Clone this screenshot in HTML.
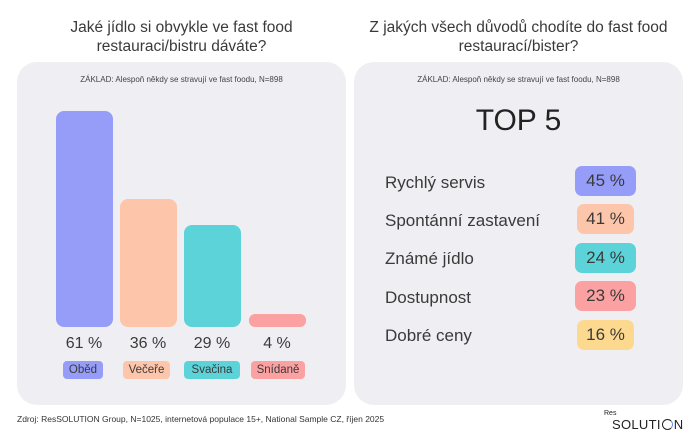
<!DOCTYPE html>
<html><head><meta charset="utf-8"><style>
body{margin:0;width:700px;height:437px;background:#fff;font-family:"Liberation Sans","DejaVu Sans",sans-serif;color:#3a3a3a;position:relative;overflow:hidden}
.a{position:absolute}
.panel{position:absolute;top:62px;width:329px;height:343px;background:#efeff3;border-radius:20px}
.t{font-size:15.5px;text-align:center;line-height:19px;color:#3a3a3a}
.base{font-size:8px;color:#444;text-align:center}
.bar{position:absolute;width:57px;border-radius:8px}
.pct{position:absolute;width:64px;text-align:center;font-size:16px;top:335px;color:#3a3a3a}
.chip{position:absolute;top:361px;height:18px;font-size:11.5px;line-height:18px;text-align:center;border-radius:4px;color:#3a3a3a}
.lab{position:absolute;left:385px;font-size:17px;color:#3a3a3a}
.rc{position:absolute;height:30px;line-height:30px;border-radius:7px;font-size:17px;text-align:center;color:#3a3a3a}
</style></head><body>
<div class="a t" style="left:17px;width:329px;top:18px">Jaké jídlo si obvykle ve fast food<br>restauraci/bistru dáváte?</div>
<div class="a t" style="left:354px;width:329px;top:18px">Z jakých všech důvodů chodíte do fast food<br>restaurací/bister?</div>
<div class="panel" style="left:17px"></div>
<div class="panel" style="left:354px"></div>
<div class="a base" style="left:17px;width:329px;top:75px">ZÁKLAD: Alespoň někdy se stravují ve fast foodu, N=898</div>
<div class="a base" style="left:354px;width:329px;top:75px">ZÁKLAD: Alespoň někdy se stravují ve fast foodu, N=898</div>
<div class="bar" style="left:56px;top:111px;height:216px;background:#959df9"></div>
<div class="bar" style="left:120px;top:199px;height:128px;background:#fdc5a9"></div>
<div class="bar" style="left:184px;top:225px;height:102px;background:#5cd3d9"></div>
<div class="bar" style="left:249px;top:314px;height:13px;background:#fba1a1;border-radius:6px"></div>
<div class="pct" style="left:52px">61 %</div>
<div class="pct" style="left:116px">36 %</div>
<div class="pct" style="left:180px">29 %</div>
<div class="pct" style="left:245px">4 %</div>
<div class="chip" style="left:63px;width:40px;background:#959df9">Oběd</div>
<div class="chip" style="left:123px;width:47px;background:#fdc5a9">Večeře</div>
<div class="chip" style="left:184px;width:56px;background:#5cd3d9">Svačina</div>
<div class="chip" style="left:251px;width:54px;background:#fba1a1">Snídaně</div>
<div class="a" style="left:354px;width:329px;top:104px;text-align:center;font-size:30px;color:#222">TOP 5</div>
<div class="lab" style="top:173px">Rychlý servis</div>
<div class="lab" style="top:211px">Spontánní zastavení</div>
<div class="lab" style="top:249px">Známé jídlo</div>
<div class="lab" style="top:288px">Dostupnost</div>
<div class="lab" style="top:326px">Dobré ceny</div>
<div class="rc" style="left:575px;width:61px;top:166px;background:#959df9">45 %</div>
<div class="rc" style="left:577px;width:57px;top:204px;background:#fdc5a9">41 %</div>
<div class="rc" style="left:575px;width:61px;top:243px;background:#5cd3d9">24 %</div>
<div class="rc" style="left:575px;width:61px;top:281px;background:#fba1a1">23 %</div>
<div class="rc" style="left:577px;width:57px;top:320px;background:#fdd98f">16 %</div>
<div class="a" style="left:17px;top:414px;font-size:8.5px;color:#333">Zdroj: ResSOLUTION Group, N=1025, internetová populace 15+, National Sample CZ, říjen 2025</div>
<div class="a" style="left:604px;top:410px;font-size:7px;color:#222">Res</div>
<div class="a" style="left:612px;top:417px;font-size:13px;color:#222;letter-spacing:0.3px">SOLUTI<span style="display:inline-block;width:9px;height:9px;border:1.5px solid #222;border-right-color:#6b8cf0;border-radius:50%;vertical-align:-1px;margin:0 1px"></span>N</div>
</body></html>
